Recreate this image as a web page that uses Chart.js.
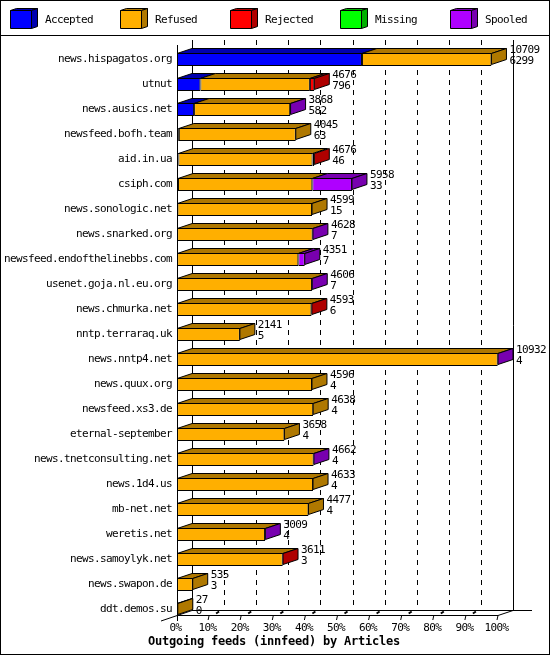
<!DOCTYPE html>
<html>
<head>
<meta charset="utf-8">
<title>Outgoing feeds (innfeed) by Articles</title>
<script src="https://cdn.jsdelivr.net/npm/chart.js@4/dist/chart.umd.min.js"></script>
<style>
  html, body { margin: 0; padding: 0; background: #fff; }
  canvas { display: block; }
</style>
</head>
<body>
<canvas id="feedChart" width="550" height="655"></canvas>
<script>
var hosts = ['news.hispagatos.org', 'utnut', 'news.ausics.net', 'newsfeed.bofh.team', 'aid.in.ua', 'csiph.com',
  'news.sonologic.net', 'news.snarked.org', 'newsfeed.endofthelinebbs.com', 'usenet.goja.nl.eu.org', 'news.chmurka.net',
  'nntp.terraraq.uk', 'news.nntp4.net', 'news.quux.org', 'newsfeed.xs3.de', 'eternal-september', 'news.tnetconsulting.net',
  'news.1d4.us', 'mb-net.net', 'weretis.net', 'news.samoylyk.net', 'news.swapon.de', 'ddt.demos.su'];

// first line next to each bar
var totals = [10709, 4676, 3868, 4045, 4676, 5958, 4599, 4628, 4351, 4606, 4593, 2141, 10932, 4596, 4638, 3658, 4662, 4633, 4477, 3009, 3611, 535, 27];

// second line next to each bar, and the first segment
var accepted = [6299, 796, 582, 63, 46, 33, 15, 7, 7, 7, 6, 5, 4, 4, 4, 4, 4, 4, 4, 4, 3, 3, 0];
var refused = [4410, 3730, 3271, 3982, 4570, 4575, 4584, 4611, 4124, 4589, 4572, 2136, 10918, 4592, 4634, 3654, 4648, 4629, 4473, 2995, 3598, 532, 27];
var rejected = [0, 150, 0, 0, 60, 0, 0, 0, 0, 0, 15, 0, 0, 0, 0, 0, 0, 0, 0, 0, 10, 0, 0];
var missing = [0, 0, 0, 0, 0, 0, 0, 0, 0, 0, 0, 0, 0, 0, 0, 0, 0, 0, 0, 0, 0, 0, 0];
var spooled = [0, 0, 15, 0, 0, 1350, 0, 10, 220, 10, 0, 0, 10, 0, 0, 0, 10, 0, 0, 10, 0, 0, 0];

var percentTicks = [0, 10, 20, 30, 40, 50, 60, 70, 80, 90, 100];
var chartTitle = 'Outgoing feeds (innfeed) by Articles';

var maxTotal = Math.max.apply(null, totals);
var textFont = '11px "DejaVu Sans Mono"';
var titleFont = 'bold 12px "DejaVu Sans Mono"';
var depthX = 15, depthY = 5;

function series(label, data, front, dark) {
  return {
    label: label,
    data: data,
    backgroundColor: front,
    darkColor: dark,
    borderColor: '#000',
    borderWidth: 1,
    borderSkipped: false,
    inflateAmount: 0,
    barThickness: 13,
    clip: false
  };
}

function poly(ctx, pts, fill) {
  ctx.beginPath();
  ctx.moveTo(pts[0][0], pts[0][1]);
  for (var i = 1; i < pts.length; i++) ctx.lineTo(pts[i][0], pts[i][1]);
  ctx.closePath();
  if (fill) {
    ctx.fillStyle = fill;
    ctx.fill();
  }
  ctx.stroke();
}

function line(ctx, x1, y1, x2, y2) {
  ctx.beginPath();
  ctx.moveTo(x1, y1);
  ctx.lineTo(x2, y2);
  ctx.stroke();
}

var frame3d = {
  id: 'frame3d',
  beforeDraw: function(chart) {
    // the reference font is a 6px wide bitmap, tall for its width
    chart.ctx.letterSpacing = '-0.62px';
  },
  beforeDatasetsDraw: function(chart) {
    var ctx = chart.ctx, sx = chart.scales.x;
    var floorBack = 610.5, floorFront = 615.5, wallTop = 40;
    ctx.save();
    ctx.strokeStyle = '#000';
    ctx.lineWidth = 1;

    // page frame and legend rule
    ctx.strokeRect(0.5, 0.5, 549, 654);
    line(ctx, 0, 35.5, 550, 35.5);

    // back wall
    percentTicks.forEach(function(p) {
      var x = Math.round(sx.getPixelForValue(p / 100 * maxTotal) + depthX) + 0.5;
      ctx.setLineDash(p === 0 || p === 100 ? [] : [5, 5]);
      line(ctx, x, wallTop, x, floorBack);
    });
    ctx.setLineDash([]);

    // floor and axes
    var x0 = sx.getPixelForValue(0), x100 = sx.getPixelForValue(maxTotal);
    line(ctx, x0 + depthX, floorBack, x100 + 34, floorBack);
    line(ctx, x0, floorFront, x100, floorFront);
    line(ctx, x0 - 16, 621, x0 + depthX, floorBack);
    line(ctx, x100, floorFront, x100 + depthX, floorBack);
    line(ctx, x0 + 0.5, 45, x0 + 0.5, 621);
    percentTicks.forEach(function(p) {
      if (p === 0) return;
      var x = sx.getPixelForValue(p / 100 * maxTotal);
      line(ctx, x - 1, 620, x, floorFront);
      if (p === 100) return;
      ctx.lineWidth = 2;
      line(ctx, x + 7, 613.5, x + 10, 611.5);
      ctx.lineWidth = 1;
    });

    // top and side faces of the bars
    hosts.forEach(function(host, row) {
      var last = null;
      chart.data.datasets.forEach(function(ds, d) {
        if (!ds.data[row]) return;
        var bar = chart.getDatasetMeta(d).data[row];
        var top = bar.y - 6;
        last = { bar: bar, ds: ds, top: top };
        if (bar.x - bar.base < 2 && ds.data[row] !== totals[row]) return;
        poly(ctx, [[bar.base, top], [bar.x, top], [bar.x + depthX, top - depthY], [bar.base + depthX, top - depthY]], ds.darkColor);
      });
      if (last) {
        var b = last.bar, t = last.top;
        poly(ctx, [[b.x, t], [b.x + depthX, t - depthY], [b.x + depthX, t - depthY + 11], [b.x, t + 11]], last.ds.darkColor);
      }
    });
    ctx.restore();
  },
  afterDatasetsDraw: function(chart) {
    var ctx = chart.ctx, sx = chart.scales.x, sy = chart.scales.y;
    ctx.save();
    ctx.font = textFont;
    ctx.fillStyle = '#000';
    ctx.textAlign = 'left';
    ctx.textBaseline = 'middle';

    hosts.forEach(function(host, row) {
      var x = sx.getPixelForValue(totals[row]) + 18;
      var y = sy.getPixelForValue(row);
      ctx.fillText(String(totals[row]), x, y - 9.5);
      ctx.fillText(String(accepted[row]), x, y + 1.5);
    });

    // legend row, evenly spaced whatever the text width
    ctx.strokeStyle = '#000';
    chart.data.datasets.forEach(function(ds, d) {
      var x = 10.5 + d * 110, y = 10.5;
      poly(ctx, [[x, y], [x + 6, y - 2], [x + 27, y - 2], [x + 21, y]], ds.darkColor);
      poly(ctx, [[x + 21, y], [x + 27, y - 2], [x + 27, y + 16], [x + 21, y + 18]], ds.darkColor);
      poly(ctx, [[x, y], [x + 21, y], [x + 21, y + 18], [x, y + 18]], ds.backgroundColor);
      ctx.fillStyle = '#000';
      ctx.fillText(ds.label, x + 34.5, 20.5);
    });

    // centred on the page, not on the plot
    ctx.font = titleFont;
    ctx.letterSpacing = '-0.22px';
    ctx.textAlign = 'center';
    ctx.fillText(chartTitle, 274, 642);
    ctx.restore();
  }
};

new Chart(document.getElementById('feedChart').getContext('2d'), {
  type: 'bar',
  data: {
    labels: hosts,
    datasets: [
      series('Accepted', accepted, '#0000ff', '#0000af'),
      series('Refused', refused, '#ffaf00', '#af7800'),
      series('Rejected', rejected, '#ff0000', '#af0000'),
      series('Missing', missing, '#00ff00', '#00af00'),
      series('Spooled', spooled, '#af00ff', '#7800af')
    ]
  },
  plugins: [frame3d],
  options: {
    indexAxis: 'y',
    responsive: false,
    animation: false,
    layout: { padding: { top: 47, right: 52, bottom: 20, left: 0 } },
    scales: {
      x: {
        stacked: true,
        min: 0,
        max: maxTotal,
        afterBuildTicks: function(scale) {
          scale.ticks = percentTicks.map(function(p) { return { value: p / 100 * maxTotal }; });
        },
        afterFit: function(scale) { scale.height = 13; },
        grid: { display: false, drawTicks: false },
        border: { display: false },
        ticks: {
          color: '#000',
          font: { family: 'DejaVu Sans Mono', size: 11 },
          padding: 0,
          labelOffset: -1.5,
          maxRotation: 0,
          autoSkip: false,
          callback: function(value) { return Math.round(value / maxTotal * 100) + '%'; }
        }
      },
      y: {
        stacked: true,
        afterFit: function(scale) { scale.width = 177; },
        grid: { display: false, drawTicks: false },
        border: { display: false },
        ticks: {
          color: '#000',
          font: { family: 'DejaVu Sans Mono', size: 11 },
          padding: 5,
          autoSkip: false
        }
      }
    },
    plugins: {
      legend: { display: false },
      tooltip: { enabled: false }
    }
  }
});
</script>
</body>
</html>
